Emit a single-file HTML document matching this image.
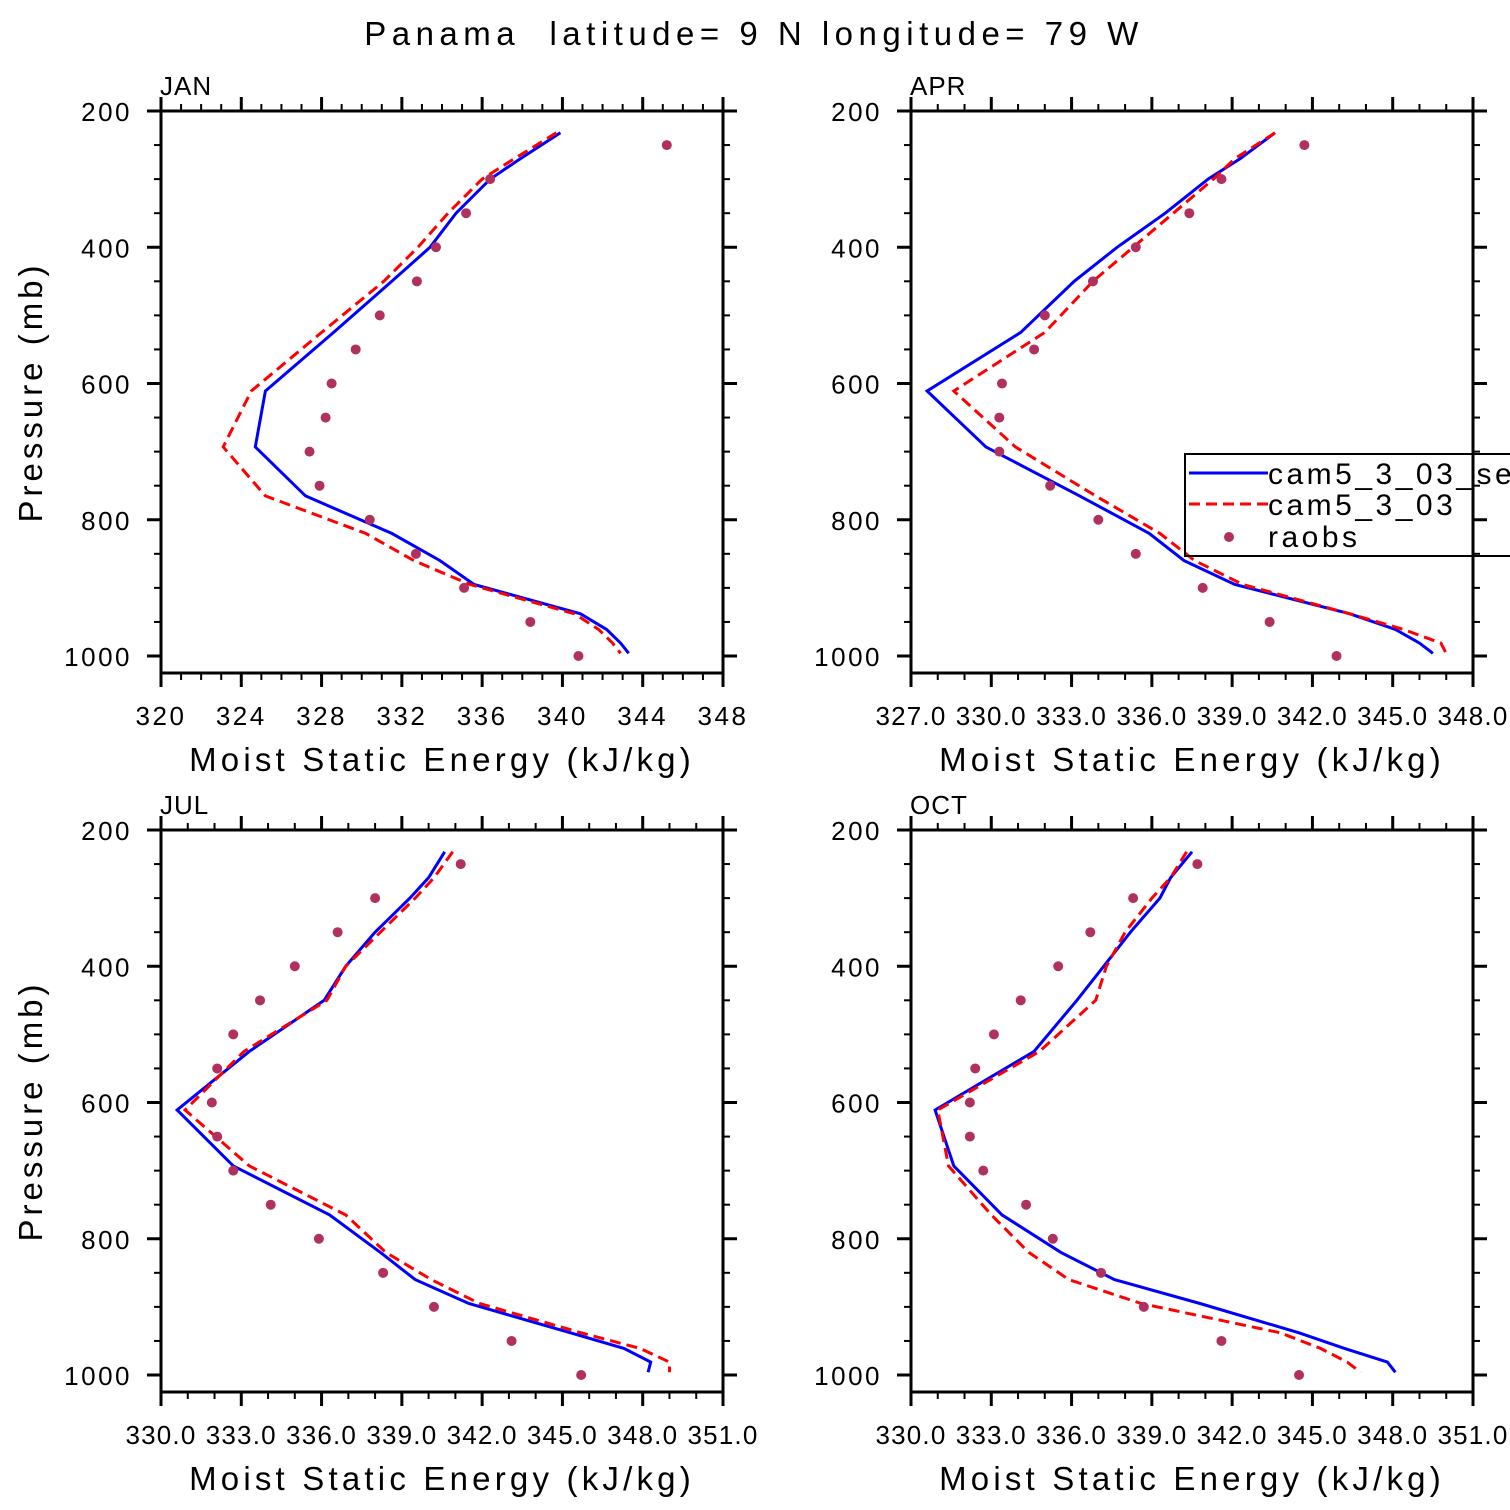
<!DOCTYPE html>
<html><head><meta charset="utf-8">
<style>
html,body{margin:0;padding:0;background:#fff;}
svg{display:block;font-family:"Liberation Sans",sans-serif;}
</style></head>
<body>
<svg id="chart" width="1510" height="1510" viewBox="0 0 1510 1510" xmlns="http://www.w3.org/2000/svg">
<rect width="1510" height="1510" fill="#fff"/>
<text x="754" y="45" font-size="33" text-anchor="middle" letter-spacing="5.5" xml:space="preserve">Panama  latitude= 9 N longitude= 79 W</text>
</svg>
<script>
const levels = [232, 270, 300, 350, 400, 450, 525, 611, 693, 765, 820, 860, 895, 938, 961, 981, 996];
const obsLevels = [250,300,350,400,450,500,550,600,650,700,750,800,850,900,950,1000];
const panelNames = ["JAN","APR","JUL","OCT"];
const janSe = [339.9,337.9,336.4,334.7,333.4,331.5,328.6,325.2,324.7,327.2,331.5,333.9,335.6,340.9,342.2,342.9,343.3];
const janCam = [339.7,337.6,336.0,334.3,332.8,331.1,328.0,324.5,323.1,325.2,330.2,332.6,335.4,340.6,341.8,342.5,342.9];
const janObs = [345.2,336.4,335.2,333.7,332.75,330.9,329.7,328.5,328.2,327.4,327.9,330.4,332.7,335.1,338.4,340.8];
const aprSe = [340.6,339.3,338.1,336.5,334.7,333.1,331.1,327.6,329.8,333.3,335.9,337.2,339.1,343.4,345.1,346.0,346.5];
const aprCam = [340.6,339.1,338.3,336.8,335.3,333.8,332.0,328.6,330.9,333.9,336.3,337.6,339.4,343.4,345.4,346.8,347.0];
const aprObs = [341.7,338.6,337.4,335.4,333.8,332.0,331.6,330.4,330.3,330.3,332.2,334.0,335.4,337.9,340.4,342.9];
const julSe = [340.6,340.0,339.3,338.0,336.9,336.1,333.3,330.6,332.7,336.3,338.2,339.5,341.5,345.3,347.3,348.3,348.2];
const julCam = [340.9,340.2,339.5,338.2,336.9,336.2,333.1,330.9,333.3,336.9,338.4,340.1,341.9,345.7,347.9,349.0,349.0];
const julObs = [341.2,338.0,336.6,335.0,333.7,332.7,332.1,331.9,332.1,332.7,334.1,335.9,338.3,340.2,343.1,345.7];
const octSe = [340.5,339.7,339.3,338.2,337.2,336.2,334.6,330.9,331.6,333.4,335.6,337.6,340.8,344.5,346.2,347.8,348.1];
const octCam = [340.3,339.7,339.0,338.0,337.3,336.9,334.8,331.0,331.4,333.0,334.4,335.9,338.6,343.8,345.3,346.3,346.8];
const octObs = [340.7,338.3,336.7,335.5,334.1,333.1,332.4,332.2,332.2,332.7,334.3,335.3,337.1,338.7,341.6,344.5];
const xMins = [320,327,330,330];
const xMaxs = [348,348,351,351];
const xSteps = [4,3,3,3];
const pTicks = [200,400,600,800,1000];

const seSeries=[janSe,aprSe,julSe,octSe], camSeries=[janCam,aprCam,julCam,octCam], obsSeries=[janObs,aprObs,julObs,octObs];
const svg=document.getElementById('chart');
const NS="http://www.w3.org/2000/svg";
function mk(tag,attrs,parent){const e=document.createElementNS(NS,tag);for(const k in attrs)e.setAttribute(k,attrs[k]);(parent||svg).appendChild(e);return e;}
const origins=[[161,111],[911,111],[161,830],[911,830]];
const W=562;
for(let i=0;i<4;i++){
  const [x0,y0]=origins[i];
  const g=mk('g',{});
  
  
  const xmin=xMins[i],xmax=xMaxs[i];
  const sx=v=>x0+(v-xmin)/(xmax-xmin)*W;
  const sy=p=>y0+(p-200)*0.68125;
  const yb=y0+562;
  const cid='clip'+i;
  const cp=mk('clipPath',{id:cid},g);mk('rect',{x:x0,y:y0,width:W,height:562},cp);
  for(let p=200;p<=1025;p+=50){
    const maj=p%200===0; const L=maj?14:7;const y=sy(p);
    mk('line',{x1:x0-L,y1:y,x2:x0,y2:y,stroke:'#000','stroke-width':maj?3:2},g);
    mk('line',{x1:x0+W,y1:y,x2:x0+W+L,y2:y,stroke:'#000','stroke-width':maj?3:2},g);
  }
  for(const p of pTicks){
    const t=mk('text',{x:x0-29,y:sy(p)+10,'font-size':26,'text-anchor':'end','letter-spacing':2.5},g);t.textContent=p;
    
    
  }
  for(let v=xmin;v<=xmax+1e-6;v+=1){
    const maj=((v-xmin)%xSteps[i])===0;const L=maj?14:7;const x=sx(v);
    mk('line',{x1:x,y1:y0-L,x2:x,y2:y0,stroke:'#000','stroke-width':maj?3:2},g);
    mk('line',{x1:x,y1:yb,x2:x,y2:yb+L,stroke:'#000','stroke-width':maj?3:2},g);
    if(maj){
      const lab=i===0?String(v):v.toFixed(1);
      const t=mk('text',{x:x,y:yb+52,'font-size':26,'text-anchor':'middle','letter-spacing':i===0?2.5:1.2},g);t.textContent=lab;
      
      
    }
  }
  mk('rect',{x:x0,y:y0,width:W,height:562,fill:'none',stroke:'#000','stroke-width':3},g);
  const pt=mk('text',{x:x0-1,y:y0-16,'font-size':26,'letter-spacing':1},g);pt.textContent=panelNames[i];
  
  
  const xt=mk('text',{x:x0+W/2,y:yb+98,'font-size':33,'text-anchor':'middle','letter-spacing':4.2},g);xt.textContent='Moist Static Energy (kJ/kg)';
  
  
  if(i%2===0){
    const yt=mk('text',{x:0,y:0,'font-size':33,'text-anchor':'middle','letter-spacing':4,transform:`translate(42,${y0+281}) rotate(-90)`},g);yt.textContent='Pressure (mb)';
    
    
  }
  const cg=mk('g',{'clip-path':`url(#${cid})`},g);
  const pts=a=>a.map((v,k)=>sx(v).toFixed(1)+','+sy(levels[k]).toFixed(1)).join(' ');
  const lb=mk('polyline',{points:pts(seSeries[i]),fill:'none',stroke:'#0000ff','stroke-width':3},cg);
  
  
  const lr=mk('polyline',{points:pts(camSeries[i]),fill:'none',stroke:'#ff0000','stroke-width':3,'stroke-dasharray':'11,6'},cg);
  
  
  obsSeries[i].forEach((v,k)=>{
    const c=mk('circle',{cx:sx(v),cy:sy(obsLevels[k]),r:5,fill:'#b03060'},cg);
    
    
  });
}
const lg=mk('g',{});


mk('rect',{x:1185,y:454,width:340,height:102,fill:'none',stroke:'#000','stroke-width':2},lg);
mk('line',{x1:1189,y1:473,x2:1268,y2:473,stroke:'#0000ff','stroke-width':3},lg);
mk('line',{x1:1189,y1:504,x2:1268,y2:504,stroke:'#ff0000','stroke-width':3,'stroke-dasharray':'11,6'},lg);
mk('circle',{cx:1229,cy:537,r:5,fill:'#b03060'},lg);
[['cam5_3_03_se',484],['cam5_3_03',515],['raobs',547]].forEach(([s,y])=>{
  const t=mk('text',{x:1268,y:y,'font-size':30,'letter-spacing':3.5},lg);t.textContent=s;
  
  
});
</script>
</body></html>
